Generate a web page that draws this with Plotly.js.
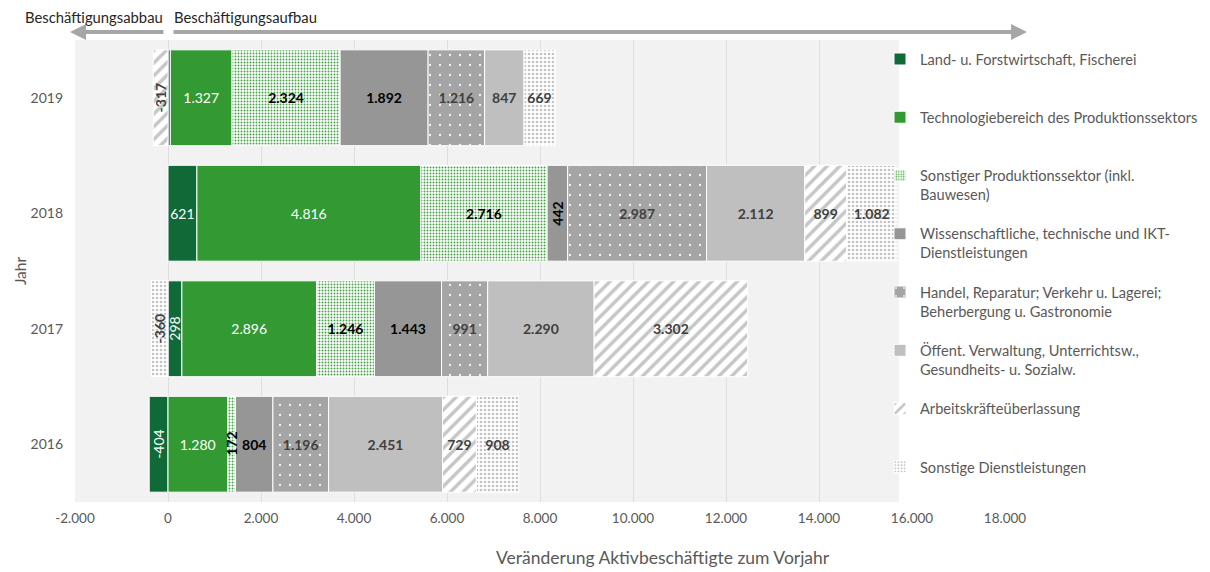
<!DOCTYPE html>
<html><head><meta charset="utf-8">
<script src="https://cdn.plot.ly/plotly-3.0.1.min.js"></script>
<style>html,body{margin:0;padding:0;background:#fff;} #chart{width:1210px;height:572px;}</style>
</head><body><div id="chart"></div>
<script>
// ---- data ----
const years = ['2016', '2017', '2018', '2019'];
const seriesNames = [
  'Land- u. Forstwirtschaft, Fischerei',
  'Technologiebereich des Produktionssektors',
  'Sonstiger Produktionssektor (inkl.<br>Bauwesen)',
  'Wissenschaftliche, technische und IKT-<br>Dienstleistungen',
  'Handel, Reparatur; Verkehr u. Lagerei;<br>Beherbergung u. Gastronomie',
  'Öffent. Verwaltung, Unterrichtsw.,<br>Gesundheits- u. Sozialw.',
  'Arbeitskräfteüberlassung',
  'Sonstige Dienstleistungen'
];
const landForst  = [-404, 298, 621, 50];
const techProd   = [1280, 2896, 4816, 1327];
const sonstProd  = [172, 1246, 2716, 2324];
const wissDL     = [804, 1443, 442, 1892];
const handel     = [1196, 991, 2987, 1216];
const oeffent    = [2451, 2290, 2112, 847];
const arbeitskr  = [729, 3302, 899, -317];
const sonstDL    = [908, -360, 1082, 669];
const xTickVals  = [-2000, 0, 2000, 4000, 6000, 8000, 10000, 12000, 14000, 16000, 18000];
// labels drawn vertically (series index - year index) and labels not shown
const rotatedLabels = ['0-0', '0-1', '2-0', '3-2', '6-3', '7-1'];
const hiddenLabels = ['0-3'];

// ---- helpers ----
function fmt(v) {
  const a = Math.abs(Math.round(v)).toString().replace(/\B(?=(\d{3})+(?!\d))/g, '.');
  return (v < 0 ? '-' : '') + a;
}
const FONT = 'Lato, "Open Sans", sans-serif';
const values = [landForst, techProd, sonstProd, wissDL, handel, oeffent, arbeitskr, sonstDL];
const styles = [
  {color: '#0f6a38', pattern: {shape: ''}, tc: '#ffffff', w: 'normal'},
  {color: '#339933', pattern: {shape: ''}, tc: '#ffffff', w: 'normal'},
  {color: '#ffffff', pattern: {shape: '.', bgcolor: '#ffffff', fgcolor: '#45a545', size: 3, solidity: 0.32, fillmode: 'replace'}, tc: '#000000', w: 'bold'},
  {color: '#969696', pattern: {shape: ''}, tc: '#000000', w: 'bold'},
  {color: '#a5a5a5', pattern: {shape: '.', bgcolor: '#a5a5a5', fgcolor: '#f4f4f4', size: 10, solidity: 0.04, fillmode: 'replace'}, tc: '#404040', w: 'bold'},
  {color: '#bfbfbf', pattern: {shape: ''}, tc: '#404040', w: 'bold'},
  {color: '#ffffff', pattern: {shape: '/', bgcolor: '#ffffff', fgcolor: '#c6c6c6', size: 9, solidity: 0.38, fillmode: 'replace'}, tc: '#404040', w: 'bold'},
  {color: '#ffffff', pattern: {shape: '.', bgcolor: '#ffffff', fgcolor: '#c4c4c4', size: 4, solidity: 0.35, fillmode: 'replace'}, tc: '#404040', w: 'bold'}
];

const traces = [];
const annotations = [];
const posBase = years.map(() => 0), negBase = years.map(() => 0);
values.forEach((vals, si) => {
  const st = styles[si];
  const texts = vals.map((v, yi) => {
    const key = si + '-' + yi;
    const start = v >= 0 ? posBase[yi] : negBase[yi];
    if (v >= 0) posBase[yi] += v; else negBase[yi] += v;
    if (hiddenLabels.includes(key)) return '';
    if (rotatedLabels.includes(key)) {
      annotations.push({
        x: start + v / 2, y: yi, xref: 'x', yref: 'y', text: fmt(v), showarrow: false,
        textangle: -90, font: {family: FONT, size: 14, color: st.tc, weight: st.w}
      });
      return '';
    }
    return fmt(v);
  });
  const name = si === 0 || si === 1 || si === 6 || si === 7 ? seriesNames[si] + '<br>&nbsp;' : seriesNames[si];
  traces.push({
    type: 'bar', orientation: 'h', name: name, legendgroup: 'g' + si,
    y: years, x: vals, text: texts, textposition: 'inside', insidetextanchor: 'middle',
    textangle: 0, constraintext: 'none',
    textfont: {family: FONT, size: 14, color: st.tc, weight: st.w},
    marker: {color: st.color, pattern: st.pattern, line: {color: '#ffffff', width: 1}},
    hoverinfo: 'skip'
  });
});

// top arrows and texts
annotations.push(
  {xref: 'paper', yref: 'paper', x: (70 - 75) / 930, y: (502 - 32) / 462, ax: 95, ay: 0, axref: 'pixel', ayref: 'pixel',
   text: '', showarrow: true, arrowhead: 2, arrowsize: 0.8, arrowwidth: 4, arrowcolor: '#a6a6a6'},
  {xref: 'paper', yref: 'paper', x: (1027 - 75) / 930, y: (502 - 32) / 462, ax: -855, ay: 0, axref: 'pixel', ayref: 'pixel',
   text: '', showarrow: true, arrowhead: 2, arrowsize: 0.8, arrowwidth: 4, arrowcolor: '#a6a6a6'},
  {xref: 'paper', yref: 'paper', x: (165 - 75) / 930, y: (502 - 17) / 462, xanchor: 'right', yanchor: 'middle',
   text: 'Beschäftigungsabbau', showarrow: false, font: {family: FONT, size: 14.8, color: '#262626'}},
  {xref: 'paper', yref: 'paper', x: (172 - 75) / 930, y: (502 - 17) / 462, xanchor: 'left', yanchor: 'middle',
   text: 'Beschäftigungsaufbau', showarrow: false, font: {family: FONT, size: 14.8, color: '#262626'}},
  {xref: 'paper', yref: 'paper', x: (663 - 75) / 930, y: (502 - 557) / 462, xanchor: 'center', yanchor: 'middle',
   text: 'Veränderung Aktivbeschäftigte zum Vorjahr', showarrow: false, font: {family: FONT, size: 17.5, color: '#595959'}}
);

const layout = {
  width: 1210, height: 572,
  margin: {l: 75, r: 205, t: 40, b: 70, autoexpand: false},
  paper_bgcolor: '#ffffff', plot_bgcolor: '#f2f2f2',
  barmode: 'relative', bargap: 0.17,
  uniformtext: {mode: 'show', minsize: 14},
  font: {family: FONT, color: '#595959'},
  xaxis: {
    range: [-2000, 18000], tickvals: xTickVals, ticktext: xTickVals.map(fmt),
    showgrid: true, gridcolor: '#dedede', gridwidth: 1, zeroline: false, showline: false,
    tickfont: {family: FONT, size: 13.5, color: '#595959'}, ticklabelstandoff: 6, fixedrange: true, automargin: false
  },
  yaxis: {
    type: 'category', categoryorder: 'array', categoryarray: years, range: [-0.5, 3.5],
    showgrid: false, zeroline: false, showline: false, automargin: false,
    tickfont: {family: FONT, size: 14, color: '#595959'}, ticklabelstandoff: 11,
    title: {text: 'Jahr', font: {family: FONT, size: 15.5, color: '#595959'}, standoff: 0}, fixedrange: true
  },
  legend: {
    x: (880 - 75) / 930, xanchor: 'left', y: (502 - 43) / 462, yanchor: 'top',
    bgcolor: 'rgba(0,0,0,0)', traceorder: 'grouped', tracegroupgap: 17.3, valign: 'top',
    font: {family: FONT, size: 14.6, color: '#595959'}, itemwidth: 30
  },
  shapes: [{
    type: 'rect', xref: 'paper', yref: 'paper', x0: (899 - 75) / 930, x1: 1.3, y0: 0, y1: 1,
    fillcolor: '#ffffff', line: {width: 0}, layer: 'above'
  }],
  annotations: annotations,
  showlegend: true
};

Plotly.newPlot('chart', traces, layout, {displayModeBar: false, staticPlot: true});
</script>
</body></html>
